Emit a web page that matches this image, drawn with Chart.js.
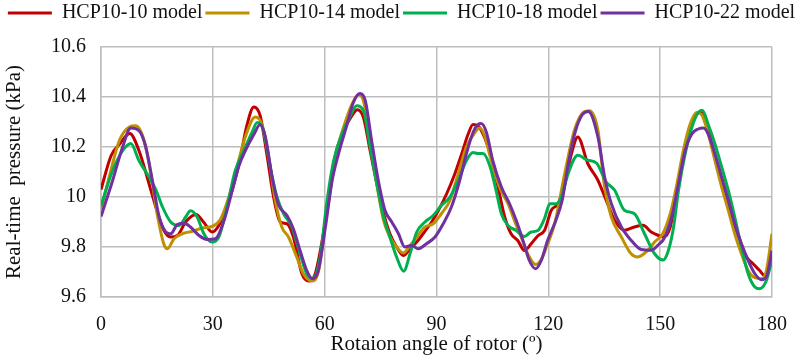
<!DOCTYPE html>
<html>
<head>
    <title>Real-time pressure vs rotor angle</title>
    <script src="https://cdn.jsdelivr.net/npm/chart.js"></script>
    <style>
        body {
            margin: 0;
            background-color: white;
        }

        .chart-box {
            width: 803px;
            height: 357px;
        }
    </style>
</head>
<body>
    <div class="chart-box">
        <canvas id="pressureChart" width="803" height="357"></canvas>
    </div>

    <script>
        // angle (deg) and pressure (kPa), one pair of arrays per model
        const angles10 = [0, 2.7, 4.9, 7.7, 10.2, 12.9, 14.7, 16.9, 18.7, 20.5, 22.7, 25.5, 27.5, 29.8, 31.6, 34.3, 37, 39.2, 41, 42.7, 44.5, 46.3, 48.1, 49.9, 51.6, 53.9, 55.7, 57.4,
            61.1, 62.8, 65.1, 67.3, 68.8, 70.4, 72.2, 74, 75.8, 77.5, 79.3, 81.1, 82.9, 84.7, 86.4, 88.7, 90.5, 92.7, 94.9, 96.7, 98.5, 99.8, 101.1, 102.9, 104.7, 106.5, 108.3, 110, 111.8, 113.6, 115.4, 117.2, 119,
            120.8, 122.6, 124.4, 126.2, 127.9, 130.6, 133.3, 135.5, 137.8, 140.4, 143.1, 145.4, 147.6, 149.4, 150.9, 152.7, 154.5, 156.2, 158, 159.8, 161, 162.5, 164.2, 166, 167.8, 169.6, 171.4, 173.2, 174.9, 176.7, 178, 180];
        const pressure10 = [10.03, 10.165, 10.21, 10.254, 10.185, 10.052, 9.96, 9.866, 9.84, 9.846, 9.9, 9.93, 9.9, 9.86, 9.886, 9.985, 10.13, 10.29, 10.36, 10.325, 10.17, 10.0, 9.9, 9.893, 9.84, 9.693, 9.664, 9.69,
            9.986, 10.16, 10.265, 10.325, 10.349, 10.318, 10.185, 10.052, 9.933, 9.853, 9.8, 9.766, 9.793, 9.82, 9.853, 9.9, 9.946, 10.012, 10.092, 10.17, 10.252, 10.29, 10.285, 10.238, 10.158, 10.04, 9.92, 9.853, 9.826, 9.786, 9.813, 9.845, 9.867,
            9.947, 9.973, 10.053, 10.173, 10.24, 10.133, 10.067, 9.987, 9.907, 9.867, 9.88, 9.887, 9.86, 9.847, 9.84, 9.88, 10.025, 10.172, 10.278, 10.331, 10.338, 10.29, 10.185, 10.092, 10.0, 9.906, 9.826, 9.76, 9.733, 9.706, 9.686, 9.77];

        const angles14 = [0, 2.2, 4.9, 7.6, 9.3, 11.6, 13.4, 15.1, 16.9, 17.8, 19.6, 21.8, 24.5, 27.2, 29.8, 32.1, 34.3, 36.5, 38.7, 41.4, 43.2, 45, 46.7, 48.5, 50.3, 52.5, 54.3, 56.5, 58.3,
            61.1, 62.8, 65.1, 67.3, 69.1, 70.4, 72.2, 74, 75.8, 77.5, 79.3, 81.1, 82.9, 84.7, 86.9, 89.1, 91.3, 93.6, 95.8, 98, 100.3, 101.6, 102.9, 104.7, 106.9, 109.2, 110.9, 112.7, 114.9, 116.6, 118.1, 119.5,
            121.7, 124.4, 127, 129.5, 131, 133.3, 135, 136.9, 139.6, 142.2, 144, 146.7, 148.5, 150.7, 152.7, 154.5, 156.2, 158, 159.8, 161.1, 162.9, 164.7, 166.5, 168.3, 170, 171.8, 173.6, 175.4, 177.2, 178.5, 180];
        const pressure14 = [9.95, 10.08, 10.225, 10.28, 10.285, 10.225, 10.09, 9.93, 9.81, 9.793, 9.833, 9.853, 9.863, 9.876, 9.882, 9.912, 10.0, 10.12, 10.24, 10.32, 10.29, 10.16, 9.99, 9.88, 9.84, 9.76, 9.693, 9.664, 9.7,
            10.01, 10.16, 10.28, 10.37, 10.41, 10.385, 10.225, 10.05, 9.906, 9.84, 9.8, 9.776, 9.806, 9.84, 9.88, 9.893, 9.933, 9.986, 10.092, 10.2, 10.258, 10.276, 10.245, 10.145, 10.04, 9.973, 9.906, 9.84, 9.76, 9.73, 9.75, 9.8,
            9.893, 10.094, 10.267, 10.34, 10.345, 10.267, 10.05, 9.92, 9.84, 9.773, 9.76, 9.787, 9.82, 9.853, 9.933, 10.052, 10.185, 10.29, 10.338, 10.33, 10.252, 10.145, 10.04, 9.946, 9.853, 9.773, 9.706, 9.677, 9.673, 9.706, 9.853];

        const angles18 = [0, 3.1, 5.8, 8, 10.2, 12.9, 14.7, 16.5, 18.7, 20.9, 22.7, 24, 25.8, 27.6, 29.7, 31.6, 33.8, 36, 38.3, 40.5, 41.9, 43.6, 45.4, 47.2, 49, 51.2, 53.4, 55.2, 56.7, 58.8,
            60.5, 62.4, 64.6, 66.9, 68.6, 70.4, 72.2, 74, 75.8, 77.5, 79.3, 81.2, 82.9, 84.7, 86.9, 89.1, 91.3, 93.6, 95.8, 98, 99.8, 101.1, 102.5, 104.3, 106, 107.4, 109.2, 111.4, 113.6, 115.4, 117.2, 119,
            120.4, 122.2, 123.5, 125.3, 127.9, 130.6, 132.9, 135.5, 137.8, 140.4, 143.1, 145.8, 148.5, 150.8, 152.2, 153.6, 154.9, 156.7, 158.5, 160.2, 161.3, 162.9, 164.7, 166.5, 168.3, 170, 171.8, 173.6, 175.4, 176.7, 178.5, 180];
        const pressure18 = [9.966, 10.105, 10.185, 10.214, 10.145, 10.08, 10.03, 9.96, 9.9, 9.886, 9.92, 9.945, 9.92, 9.853, 9.82, 9.84, 9.96, 10.105, 10.185, 10.258, 10.298, 10.265, 10.12, 10.0, 9.933, 9.88, 9.773, 9.693, 9.675, 9.76,
            9.97, 10.145, 10.25, 10.325, 10.365, 10.345, 10.2, 10.052, 9.92, 9.84, 9.76, 9.703, 9.773, 9.86, 9.9, 9.926, 9.966, 10.0, 10.065, 10.145, 10.178, 10.174, 10.174, 10.125, 10.025, 9.933, 9.886, 9.866, 9.842, 9.86, 9.866, 9.915,
            9.973, 9.973, 10.0, 10.093, 10.167, 10.147, 10.136, 10.06, 10.027, 9.947, 9.933, 9.853, 9.773, 9.748, 9.786, 9.88, 10.025, 10.172, 10.278, 10.338, 10.347, 10.29, 10.212, 10.12, 10.025, 9.92, 9.8, 9.693, 9.64, 9.633, 9.666, 9.75];

        const angles22 = [0, 3.1, 5.8, 8, 10.2, 12, 13.8, 15.6, 17.4, 18.7, 20.5, 22.3, 24, 26.3, 28.5, 30.7, 33, 35.2, 37, 38.7, 41, 42.7, 44.1, 45.9, 47.6, 49.9, 51.6, 53.4, 55.2, 56.7, 58.3,
            60.2, 62, 63.7, 66, 67.7, 69.5, 70.9, 72.6, 74.4, 76.2, 78, 79.8, 81.5, 83.3, 85.1, 87.3, 89.6, 91.8, 94, 96.2, 98, 99.8, 101.1, 102, 103.4, 105.1, 107.4, 109.6, 111.4, 113.2, 114.9, 116.6, 118.1, 119.8,
            122, 123.7, 125.5, 127.3, 129.1, 130.7, 133.3, 135.1, 136.9, 139.6, 142.2, 144.9, 147.6, 149.8, 151, 153.1, 154.9, 156.7, 158.5, 160.2, 161.6, 162.9, 164.7, 166.5, 168.3, 170, 171.8, 173.6, 175.4, 177.2, 178.5, 180];
        const pressure22 = [9.922, 10.065, 10.2, 10.276, 10.265, 10.2, 10.065, 9.92, 9.86, 9.853, 9.89, 9.895, 9.88, 9.846, 9.83, 9.833, 9.906, 10.026, 10.125, 10.185, 10.25, 10.29, 10.24, 10.08, 9.97, 9.926, 9.873, 9.786, 9.706, 9.673, 9.706,
            9.88, 10.065, 10.172, 10.29, 10.378, 10.414, 10.385, 10.225, 10.065, 9.946, 9.9, 9.853, 9.8, 9.806, 9.793, 9.813, 9.84, 9.893, 9.96, 10.065, 10.172, 10.258, 10.29, 10.294, 10.258, 10.145, 10.04, 9.973, 9.906, 9.826, 9.746, 9.713, 9.746, 9.826,
            9.906, 9.986, 10.145, 10.265, 10.329, 10.342, 10.24, 10.08, 9.973, 9.88, 9.827, 9.79, 9.787, 9.813, 9.833, 9.92, 10.052, 10.185, 10.252, 10.272, 10.276, 10.252, 10.172, 10.079, 9.986, 9.893, 9.813, 9.746, 9.693, 9.669, 9.68, 9.786];

        const modelNames = ['HCP10-10 model', 'HCP10-14 model', 'HCP10-18 model', 'HCP10-22 model'];
        const xTicks = [0, 30, 60, 90, 120, 150, 180];
        const yTicks = [9.6, 9.8, 10, 10.2, 10.4, 10.6];

        const toPoints = (xs, ys) => xs.map((x, i) => ({ x: x, y: ys[i] }));

        const serif = "'Liberation Serif', 'Times New Roman', serif";

        // legend row uses the full canvas width, and leaves a gap above the plot
        const legendGap = {
            id: 'legendGap',
            beforeInit(chart) {
                const legend = chart.legend;
                const fit = legend.fit;
                legend.fit = function () {
                    this.maxWidth = chart.width;
                    fit.bind(legend)();
                    this.height += 14;
                };
            },
            afterLayout(chart) {
                const legend = chart.legend;
                legend.left = 0;
                legend.right = chart.width;
                legend.width = chart.width;
            }
        };

        const lineSet = (label, data, color, order) => ({
            label: label,
            data: data,
            borderColor: color,
            backgroundColor: color,
            borderWidth: 3,
            pointRadius: 0,
            cubicInterpolationMode: 'monotone',
            order: order
        });

        new Chart(document.getElementById('pressureChart'), {
            type: 'line',
            data: {
                datasets: [
                    lineSet(modelNames[0], toPoints(angles10, pressure10), '#C00000', 3),
                    lineSet(modelNames[1], toPoints(angles14, pressure14), '#BF9000', 2),
                    lineSet(modelNames[2], toPoints(angles18, pressure18), '#00B050', 1),
                    lineSet(modelNames[3], toPoints(angles22, pressure22), '#7030A0', 0)
                ]
            },
            options: {
                responsive: false,
                animation: false,
                layout: {
                    padding: { left: 0, right: 29, top: 0, bottom: 0 }
                },
                plugins: {
                    tooltip: { enabled: false },
                    legend: {
                        display: true,
                        position: 'top',
                        labels: {
                            usePointStyle: true,
                            pointStyle: 'line',
                            pointStyleWidth: 44,
                            padding: 3,
                            color: '#111',
                            font: { family: serif, size: 20 },
                            sort: (a, b) => a.datasetIndex - b.datasetIndex
                        }
                    }
                },
                scales: {
                    x: {
                        type: 'linear',
                        min: 0,
                        max: 180,
                        afterFit(scale) { scale.height = 60; },
                        afterBuildTicks(scale) { scale.ticks = xTicks.map(v => ({ value: v })); },
                        grid: { color: '#bdbdbd', lineWidth: 1.5, drawTicks: false },
                        border: { color: '#bdbdbd', width: 1.5 },
                        ticks: {
                            padding: 16,
                            color: '#111',
                            font: { family: serif, size: 20 }
                        },
                        title: {
                            display: true,
                            text: 'Rotaion angle of rotor (º)',
                            color: '#111',
                            font: { family: serif, size: 21 },
                            padding: { top: 0, bottom: 0 }
                        }
                    },
                    y: {
                        min: 9.6,
                        max: 10.6,
                        afterFit(scale) { scale.width = 101; },
                        afterBuildTicks(scale) { scale.ticks = yTicks.map(v => ({ value: v })); },
                        grid: { color: '#bdbdbd', lineWidth: 1.5, drawTicks: false },
                        border: { color: '#bdbdbd', width: 1.5 },
                        ticks: {
                            padding: 15,
                            color: '#111',
                            font: { family: serif, size: 20 },
                            callback: v => String(+v.toFixed(1))
                        },
                        title: {
                            display: true,
                            text: 'Real-time  pressure (kPa)',
                            color: '#111',
                            font: { family: serif, size: 21 },
                            padding: { top: 2, bottom: 0 }
                        }
                    }
                }
            },
            plugins: [legendGap]
        });
    </script>
</body>
</html>
